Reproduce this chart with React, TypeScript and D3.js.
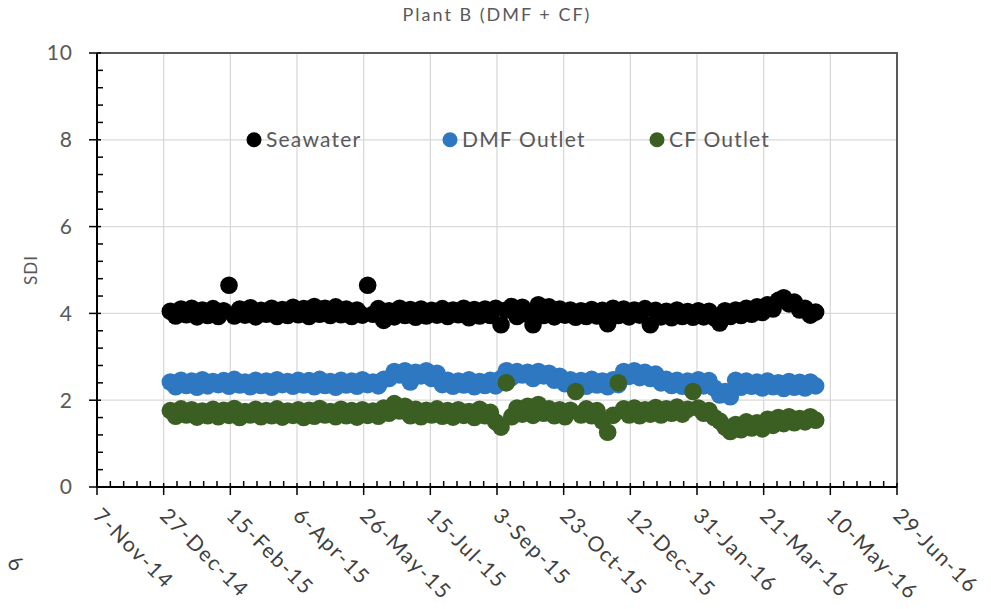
import { useEffect, useRef } from "react";
import * as d3 from "d3";

const title = "Plant B (DMF + CF)";
const yLabel = "SDI";
const xTickLabels = [
  "7-Nov-14", "27-Dec-14", "15-Feb-15", "6-Apr-15", "26-May-15", "15-Jul-15", "3-Sep-15",
  "23-Oct-15", "12-Dec-15", "31-Jan-16", "21-Mar-16", "10-May-16", "29-Jun-16",
];
const yTicks = [0, 2, 4, 6, 8, 10];

// samples taken every 4 days starting on this date
const firstSample = "1-Jan-15";
const sampleStepDays = 4;

const seawater = [
  4.05, 3.94, 4.1, 3.97, 4.12, 3.92, 4.08, 3.95, 4.11, 3.93,
  4.06, 4.65, 3.94, 4.1, 3.96, 4.13, 3.92, 4.07, 3.98, 4.12,
  3.93, 4.09, 3.95, 4.14, 3.97, 4.11, 3.93, 4.16, 3.98, 4.12,
  3.95, 4.15, 3.97, 4.1, 3.93, 4.08, 3.96, 4.65, 3.98, 4.11,
  3.84, 4.06, 3.92, 4.12, 3.95, 4.09, 3.91, 4.1, 3.94, 4.07,
  3.96, 4.11, 3.93, 4.08, 3.97, 4.12, 3.9, 4.09, 3.94, 4.1,
  3.95, 4.12, 3.74, 4.08, 4.16, 3.93, 4.14, 3.98, 3.74, 4.2,
  3.95, 4.15, 3.92, 4.1, 3.96, 4.08, 3.91, 4.06, 3.93, 4.09,
  3.94, 4.07, 3.76, 4.12, 3.95, 4.1, 3.92, 4.08, 3.96, 4.11,
  3.74, 4.07, 3.92, 4.05, 3.9, 4.08, 3.93, 4.04, 3.91, 4.06,
  3.92, 4.05, 3.9, 3.78, 4.06, 3.93, 4.08, 3.95, 4.12, 3.98,
  4.15, 4.02, 4.2, 4.1, 4.3, 4.36, 4.22, 4.26, 4.08, 4.12,
  3.96, 4.03,
];

const dmfOutlet = [
  2.42, 2.31, 2.46, 2.34, 2.44, 2.3, 2.47, 2.33, 2.43, 2.36,
  2.45, 2.32, 2.48, 2.35, 2.42, 2.31, 2.46, 2.34, 2.44, 2.3,
  2.47, 2.36, 2.43, 2.32, 2.46, 2.35, 2.45, 2.31, 2.48, 2.34,
  2.43, 2.3, 2.46, 2.35, 2.44, 2.32, 2.47, 2.36, 2.42, 2.33,
  2.48, 2.5, 2.66, 2.58, 2.68, 2.42, 2.64, 2.56, 2.68, 2.5,
  2.62, 2.36, 2.46, 2.32, 2.44, 2.35, 2.47, 2.31, 2.43, 2.34,
  2.46, 2.33, 2.5, 2.68, 2.52, 2.66, 2.58, 2.64, 2.5, 2.66,
  2.56, 2.62, 2.46, 2.55, 2.38, 2.47, 2.34, 2.45, 2.32, 2.48,
  2.35, 2.44, 2.31, 2.47, 2.36, 2.66, 2.55, 2.68, 2.52, 2.64,
  2.5, 2.6, 2.4, 2.48, 2.34, 2.46, 2.32, 2.44, 2.36, 2.47,
  2.33, 2.45, 2.28, 2.12, 2.2, 2.08, 2.46, 2.3, 2.44, 2.32,
  2.42, 2.28, 2.44, 2.31, 2.4, 2.27, 2.43, 2.3, 2.41, 2.28,
  2.42, 2.33,
];

const cfOutlet = [
  1.76, 1.63, 1.8, 1.66, 1.78, 1.61, 1.75, 1.64, 1.79, 1.62,
  1.77, 1.65, 1.81, 1.6, 1.74, 1.66, 1.79, 1.62, 1.76, 1.64,
  1.8, 1.61, 1.75, 1.65, 1.78, 1.6, 1.77, 1.63, 1.81, 1.66,
  1.74, 1.62, 1.79, 1.64, 1.76, 1.61, 1.78, 1.65, 1.75, 1.63,
  1.82, 1.7, 1.92, 1.75, 1.86, 1.64, 1.79, 1.62, 1.77, 1.66,
  1.8, 1.63, 1.76, 1.61, 1.78, 1.65, 1.74, 1.6, 1.79, 1.64,
  1.72, 1.5, 1.38, 2.4, 1.62, 1.82, 1.68, 1.86, 1.65, 1.9,
  1.7, 1.8, 1.64, 1.78, 1.62, 1.77, 2.2, 1.66, 1.8, 1.64,
  1.76, 1.52, 1.26, 1.65, 2.4, 1.8, 1.66, 1.82, 1.64, 1.78,
  1.68, 1.83, 1.66, 1.8, 1.7, 1.84, 1.68, 1.79, 2.2, 1.82,
  1.7, 1.76, 1.6, 1.52, 1.38, 1.28, 1.44, 1.32, 1.5, 1.36,
  1.48, 1.34, 1.56, 1.42, 1.6, 1.46, 1.62, 1.48, 1.58, 1.5,
  1.62, 1.54,
];

const seriesNames = ["Seawater", "DMF Outlet", "CF Outlet"];
const seriesColors = ["#000000", "#2e78c2", "#3b5e22"];

function SdiChart() {
  const ref = useRef<SVGSVGElement>(null);

  useEffect(() => {
    const svg = d3.select(ref.current);
    svg.selectAll("*").remove();

    const font = "Lato, 'Open Sans', sans-serif";
    const left = 97, right = 897, top = 53, bottom = 487;
    const parse = d3.timeParse("%d-%b-%y");
    const tickDates = xTickLabels.map((s) => parse(s) as Date);

    const x = d3.scaleTime().domain([tickDates[0], tickDates[tickDates.length - 1]]).range([left, right]);
    const y = d3.scaleLinear().domain([0, 10]).range([bottom, top]);

    // gridlines
    svg.append("g")
      .selectAll("line")
      .data(yTicks.filter((t) => t > 0 && t < 10))
      .join("line")
      .attr("x1", left).attr("x2", right)
      .attr("y1", (d) => y(d)).attr("y2", (d) => y(d))
      .attr("stroke", "#d9d9d9").attr("stroke-width", 1.3);
    svg.append("g")
      .selectAll("line")
      .data(tickDates.slice(1, -1))
      .join("line")
      .attr("x1", (d) => x(d)).attr("x2", (d) => x(d))
      .attr("y1", top).attr("y2", bottom)
      .attr("stroke", "#d9d9d9").attr("stroke-width", 1.3);

    // top/right border
    svg.append("path")
      .attr("d", `M${left},${top}H${right}V${bottom}`)
      .attr("fill", "none").attr("stroke", "#595959").attr("stroke-width", 2);

    // data points
    const start = parse(firstSample) as Date;
    const all = [seawater, dmfOutlet, cfOutlet];
    all.forEach((vals, k) => {
      svg.append("g")
        .selectAll("circle")
        .data(vals)
        .join("circle")
        .attr("cx", (_d, i) => x(d3.timeDay.offset(start, i * sampleStepDays)))
        .attr("cy", (d) => y(d))
        .attr("r", 8.8)
        .attr("fill", seriesColors[k]);
    });

    // y axis
    const yAxis = svg.append("g");
    yAxis.append("line")
      .attr("x1", left).attr("x2", left).attr("y1", top).attr("y2", bottom)
      .attr("stroke", "#000").attr("stroke-width", 2);
    const yMinor = d3.range(0, 10.001, 0.4).filter((v) => Math.abs(v / 2 - Math.round(v / 2)) > 0.01);
    yAxis.selectAll("line.minor")
      .data(yMinor)
      .join("line")
      .attr("class", "minor")
      .attr("x1", left).attr("x2", left + 6)
      .attr("y1", (d) => y(d)).attr("y2", (d) => y(d))
      .attr("stroke", "#000").attr("stroke-width", 1.5);
    yAxis.selectAll("line.major")
      .data(yTicks)
      .join("line")
      .attr("class", "major")
      .attr("x1", left - 8).attr("x2", left + 4)
      .attr("y1", (d) => y(d)).attr("y2", (d) => y(d))
      .attr("stroke", "#000").attr("stroke-width", 1.5);
    yAxis.selectAll("text")
      .data(yTicks)
      .join("text")
      .attr("x", 73)
      .attr("y", (d) => y(d))
      .attr("dy", "0.35em")
      .attr("text-anchor", "end")
      .attr("font-family", font)
      .attr("font-size", 21)
      .attr("letter-spacing", 1)
      .attr("fill", "#595959")
      .text((d) => d);

    // x axis
    const xAxis = svg.append("g");
    xAxis.append("line")
      .attr("x1", left).attr("x2", right).attr("y1", bottom).attr("y2", bottom)
      .attr("stroke", "#000").attr("stroke-width", 2);
    const xMinor = d3.timeDay.range(tickDates[0], tickDates[tickDates.length - 1])
      .filter((_d, i) => i % 10 === 0 && i % 50 !== 0);
    xAxis.selectAll("line.minor")
      .data(xMinor)
      .join("line")
      .attr("class", "minor")
      .attr("x1", (d) => x(d)).attr("x2", (d) => x(d))
      .attr("y1", bottom - 6).attr("y2", bottom)
      .attr("stroke", "#000").attr("stroke-width", 1.5);
    xAxis.selectAll("line.major")
      .data(tickDates)
      .join("line")
      .attr("class", "major")
      .attr("x1", (d) => x(d)).attr("x2", (d) => x(d))
      .attr("y1", bottom - 4).attr("y2", bottom + 8)
      .attr("stroke", "#000").attr("stroke-width", 1.5);
    xAxis.selectAll("text")
      .data(tickDates)
      .join("text")
      .attr("transform", (d) => `translate(${x(d) - 5},${bottom + 30}) rotate(45)`)
      .attr("font-family", font)
      .attr("font-size", 21)
      .attr("letter-spacing", 1.6)
      .attr("fill", "#404040")
      .text((_d, i) => xTickLabels[i]);

    // legend
    const legendX = [254, 450, 657];
    const legend = svg.append("g");
    seriesNames.forEach((name, k) => {
      legend.append("circle")
        .attr("cx", legendX[k]).attr("cy", y(8)).attr("r", 7.5)
        .attr("fill", seriesColors[k]);
      legend.append("text")
        .attr("x", legendX[k] + 12).attr("y", y(8))
        .attr("dy", "0.35em")
        .attr("font-family", font).attr("font-size", 21)
        .attr("letter-spacing", 1.2)
        .attr("fill", "#595959")
        .text(name);
    });

    // title and y label
    svg.append("text")
      .attr("x", 497).attr("y", 21)
      .attr("text-anchor", "middle")
      .attr("font-family", font).attr("font-size", 18)
      .attr("letter-spacing", 2)
      .attr("fill", "#595959")
      .text(title);
    svg.append("text")
      .attr("transform", `translate(37,${(top + bottom) / 2}) rotate(-90)`)
      .attr("text-anchor", "middle")
      .attr("font-family", font).attr("font-size", 17)
      .attr("letter-spacing", 1)
      .attr("fill", "#595959")
      .text(yLabel);

    // label fragment at the left edge (from the neighbouring chart)
    svg.append("text")
      .attr("transform", "translate(6,564) rotate(45)")
      .attr("font-family", font).attr("font-size", 21)
      .attr("fill", "#404040")
      .text("6");
  }, []);

  return (
    <svg
      ref={ref}
      width={991}
      height={609}
      style={{ position: "absolute", left: 0, top: 0, background: "#fff" }}
    />
  );
}

export default function App() {
  return <SdiChart />;
}
